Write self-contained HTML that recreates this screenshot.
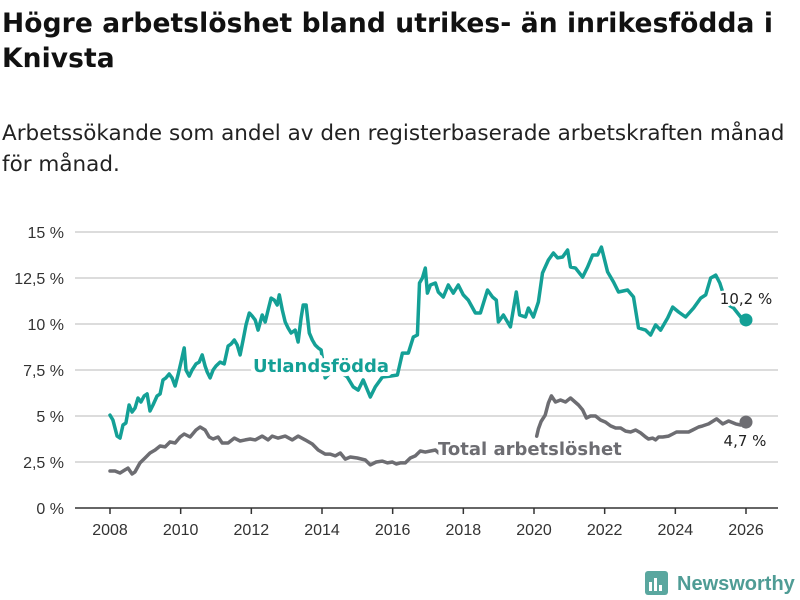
<!DOCTYPE html>
<html><head><meta charset="utf-8">
<style>
body{margin:0;width:800px;height:600px;background:#fff;font-family:"Liberation Sans",sans-serif;overflow:hidden;position:relative}
h1{position:absolute;left:2px;top:6px;margin:0;font-family:"DejaVu Sans",sans-serif;font-size:26.5px;line-height:35px;font-weight:bold;color:#111;letter-spacing:0.1px;white-space:nowrap}
p.sub{position:absolute;left:2px;top:118px;margin:0;font-family:"DejaVu Sans",sans-serif;font-size:21.5px;line-height:31px;color:#222;white-space:nowrap}
svg{position:absolute;left:0;top:0}
</style></head>
<body>
<h1>Högre arbetslöshet bland utrikes- än inrikesfödda i<br>Knivsta</h1>
<p class="sub">Arbetssökande som andel av den registerbaserade arbetskraften månad<br>för månad.</p>
<svg id="chart" width="800" height="600"></svg>
<script>
const yTicks=[0,2.5,5,7.5,10,12.5,15];
const yTickLabels=["0 %","2,5 %","5 %","7,5 %","10 %","12,5 %","15 %"];
const xTicks=[2008,2010,2012,2014,2016,2018,2020,2022,2024,2026];
// months since Jan 2008
const utlMonths=[0,1,2.4,3.4,4.4,5.4,6.5,7.5,8.5,9.5,10.5,11.6,12.6,13.6,14.6,16,17,18,19,20.1,21.1,22.1,23.1,24.1,25.2,25.8,26.9,27.9,29.2,30.3,31.3,32.3,33,34,35,36,37.4,38.8,40.1,41.1,42.2,43.2,44.2,45.2,46.2,47.3,48.3,49.3,50.3,51.7,52.7,53.7,54.7,55.8,56.8,57.5,58.5,59.5,60.5,61.5,62.9,63.9,64.9,65.6,66.6,67.7,68.7,69.7,70.7,71.7,73.1,75.8,78.2,80.6,82.6,84.3,86,88.4,90.1,92.5,95.2,97.6,99.3,101.3,103,104.4,105.1,106.1,107.1,107.8,108.8,110.5,111.5,113.2,114.9,116.6,118.3,120,121.7,124.1,125.8,128.2,129.9,131.2,131.9,133.6,136,138,139.1,141.1,142.1,143.8,145.5,146.9,148.9,150.6,152,153.7,155.4,156.4,158.1,160.5,162.2,163.9,165.6,166.9,169,171,172.7,175.8,177.8,179.5,181.9,183.6,185.3,187,189.4,191.1,193.1,195.5,198.2,200.6,202.3,204,205.7,207.1,208.1,210.1,211.8,214.2,216];
const utlValues=[5.05,4.78,3.91,3.8,4.51,4.62,5.6,5.22,5.43,5.98,5.76,6.09,6.2,5.27,5.6,6.09,6.2,6.96,7.07,7.28,7.07,6.63,7.23,7.93,8.7,7.5,7.17,7.5,7.83,7.93,8.32,7.72,7.39,7.07,7.5,7.72,7.93,7.83,8.8,8.91,9.13,8.86,8.32,9.13,9.95,10.6,10.43,10.22,9.67,10.49,10.11,10.76,11.41,11.3,11.03,11.58,10.76,10.11,9.78,9.51,9.67,9.02,10.33,11.03,11.03,9.51,9.13,8.86,8.7,8.59,7.07,7.5,7.39,7.12,6.58,6.41,6.96,6.03,6.58,7.12,7.17,7.23,8.42,8.42,9.29,9.4,12.23,12.5,13.04,11.68,12.12,12.23,11.74,11.47,12.12,11.68,12.12,11.58,11.3,10.6,10.6,11.85,11.47,11.3,10.11,10.49,9.84,11.74,10.49,10.38,10.87,10.38,11.2,12.77,13.48,13.86,13.59,13.64,14.02,13.1,13.04,12.55,13.1,13.75,13.75,14.18,12.83,12.28,11.74,11.85,11.47,9.78,9.67,9.4,9.95,9.67,10.33,10.92,10.65,10.38,10.87,11.41,11.58,12.5,12.66,12.23,11.74,11.03,10.87,10.38,10.22];
const totMonths=[0,1.7,3.4,5.1,6.1,7.5,8.5,10.2,11.9,13.6,15.3,17,18.7,20.4,22.1,23.8,25.2,27.2,29.2,30.6,32.3,33.7,35,36.7,38.1,40.1,42.2,44.2,45.9,47.6,49.3,51.7,53.7,55.1,57.1,59.5,61.9,63.9,66.3,68.7,70.7,73.1,74.8,76.5,78.2,79.9,81.6,84,86.7,88.4,90.4,92.5,94.2,95.9,97.2,98.6,100.3,102,103.7,105.4,107.1,108.8,110.5,111.9,144.9,145.5,146.4,147.8,148.9,149.9,151.3,153,154.7,156.4,159.1,160.5,161.8,163.2,164.9,166.6,168.3,170,171.7,173.4,175.1,176.8,178.5,180.2,181.9,182.9,184.3,185.3,186.3,187.7,189.7,191.1,192.4,194.5,196.5,197.9,199.9,201.3,203.3,206,208.1,210.1,212.5,214.2,216];
const totValues=[2.01,2.01,1.9,2.07,2.17,1.85,1.96,2.45,2.72,2.99,3.15,3.37,3.32,3.59,3.53,3.86,4.02,3.86,4.24,4.4,4.24,3.86,3.75,3.86,3.53,3.53,3.8,3.64,3.7,3.75,3.7,3.91,3.7,3.91,3.8,3.91,3.7,3.91,3.7,3.48,3.15,2.93,2.93,2.83,2.99,2.66,2.77,2.72,2.61,2.34,2.5,2.55,2.45,2.5,2.39,2.45,2.45,2.72,2.83,3.1,3.04,3.1,3.15,2.95,3.9,4.3,4.7,5.05,5.71,6.09,5.76,5.87,5.76,5.98,5.6,5.33,4.89,5,5,4.78,4.67,4.46,4.35,4.35,4.18,4.13,4.24,4.08,3.86,3.75,3.8,3.7,3.86,3.86,3.91,4.02,4.13,4.13,4.13,4.24,4.4,4.46,4.57,4.84,4.57,4.73,4.57,4.51,4.67];

const NS="http://www.w3.org/2000/svg";
const svg=document.getElementById('chart');
const X0=110,X1=746,Y0=508,Y1=232;
function xScale(m){return X0+(m/216)*(X1-X0);}
function xYear(y){return xScale((y-2008)*12);}
function yScale(v){return Y0-(v/15)*(Y0-Y1);}
function mk(tag,attrs,parent){const e=document.createElementNS(NS,tag);for(const k in attrs)e.setAttribute(k,attrs[k]);(parent||svg).appendChild(e);return e;}

yTicks.forEach((t,i)=>{
  const y=yScale(t);
  if(i>0){const g=mk('line',{x1:75,x2:778,y1:y,y2:y,stroke:'#dcdcdc','stroke-width':2});
  
  }
  const tx=mk('text',{x:64,y:y+6,'text-anchor':'end','font-size':16,fill:'#333'});
  tx.textContent=yTickLabels[i];
  
  
});
const ax=mk('line',{x1:75,x2:778,y1:Y0,y2:Y0,stroke:'#333','stroke-width':1.5});


xTicks.forEach(t=>{
  const x=xYear(t);
  const tk=mk('line',{x1:x,x2:x,y1:Y0,y2:Y0+6,stroke:'#333','stroke-width':1.5});
  
  
  const tx=mk('text',{x:x,y:Y0+27,'text-anchor':'middle','font-size':16,fill:'#333'});
  tx.textContent=t;
  
  
});
function line(ms,vs,color,name){
  const d=ms.map((m,i)=>((i===0||m-ms[i-1]>20)?'M':'L')+xScale(m).toFixed(1)+','+yScale(vs[i]).toFixed(1)).join('');
  const p=mk('path',{d:d,fill:'none',stroke:color,'stroke-width':3.5,'stroke-linejoin':'round','stroke-linecap':'round'});
  
  
  const n=ms.length-1;
  const c=mk('circle',{cx:xScale(ms[n]),cy:yScale(vs[n]),r:6.5,fill:color});
  
  
}
const TEAL='#14a096',GRAY='#6d6d72';
line(totMonths,totValues,GRAY,'total-line');
line(utlMonths,utlValues,TEAL,'utlandsfodda-line');
function label(x,y,txt,color,size,bold,name,anchor){
  const t=mk('text',{x:x,y:y,'font-size':size,'font-weight':bold?'bold':'normal',fill:color,stroke:'#fff','stroke-width':bold?8:5,'paint-order':'stroke','stroke-linejoin':'round','text-anchor':anchor||'start','font-family':'DejaVu Sans, sans-serif'});
  t.textContent=txt;
  
  
}
label(253,372,'Utlandsfödda',TEAL,18,true,'utlandsfodda-label');
label(438,455,'Total arbetslöshet',GRAY,18,true,'total-label');
label(746,304,'10,2 %','#222',15,false,'utlandsfodda-end-value','middle');
label(745,446,'4,7 %','#222',15,false,'total-end-value','middle');

// logo
const lg=mk('g',{});


mk('rect',{x:645,y:571,width:23,height:24,rx:3,fill:'#5aa79f'},lg);
mk('rect',{x:649,y:582,width:3,height:9,fill:'#fff'},lg);
mk('rect',{x:654,y:578,width:3,height:13,fill:'#fff'},lg);
mk('rect',{x:659,y:585,width:3,height:6,fill:'#fff'},lg);
const lt=mk('text',{x:677,y:590,'font-size':20,'font-weight':'bold',fill:'#4f9c95'},lg);
lt.textContent='Newsworthy';
</script>
</body></html>
